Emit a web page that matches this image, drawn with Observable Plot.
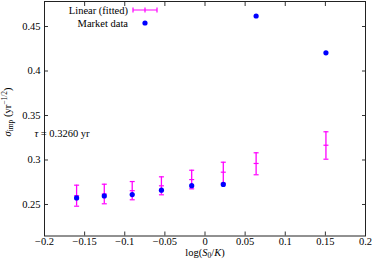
<!DOCTYPE html>
<html>
<head>
<meta charset="utf-8">
<script src="https://cdn.jsdelivr.net/npm/d3@7"></script>
<script src="https://cdn.jsdelivr.net/npm/@observablehq/plot@0.6"></script>
<style>
  html, body { margin: 0; padding: 0; background: #fff; }
  #chart { width: 374px; height: 263px; }
</style>
</head>
<body>
<div id="chart"></div>
<script>
const xTicks = [-0.2, -0.15, -0.1, -0.05, 0, 0.05, 0.1, 0.15, 0.2];
const yTicks = [0.25, 0.3, 0.35, 0.4, 0.45];
const logMoneyness = [-0.160, -0.1255, -0.0907, -0.0543, -0.0166, 0.0228, 0.0637, 0.1507];
const marketVol = [0.2574, 0.2596, 0.2611, 0.2661, 0.2711, 0.2726, 0.4618, 0.4204];
const fitVol = [0.2599, 0.2618, 0.2655, 0.2710, 0.2780, 0.2863, 0.2961, 0.3166];
const fitLo = [0.2481, 0.2508, 0.2553, 0.2609, 0.2676, 0.2739, 0.2834, 0.3009];
const fitHi = [0.2717, 0.2728, 0.2758, 0.2811, 0.2885, 0.2975, 0.3081, 0.3317];
const legendLabels = ["Linear (fitted)", "Market data"];
const tauLabel = "0.3260";

const fitData = logMoneyness.map((x, i) => ({x, y: fitVol[i], lo: fitLo[i], hi: fitHi[i]}));
const marketData = logMoneyness.map((x, i) => ({x, y: marketVol[i]}));

const MAG = "#ff00ff", BLUE = "#0000ff", FONT = "'Liberation Serif', 'DejaVu Serif', serif";
const hline = { draw(ctx, size) { const w = Math.sqrt(size / Math.PI); ctx.moveTo(-w, 0); ctx.lineTo(w, 0); } };
const fmt = d => { const s = String(+d.toFixed(2)); return s.replace("-", "\u2212"); };

const plot = Plot.plot({
  width: 374,
  height: 263,
  marginLeft: 44,
  marginRight: 9,
  marginTop: 1,
  marginBottom: 27.5,
  style: { fontFamily: FONT, fontSize: "10.5px", color: "#000", background: "#fff" },
  x: { domain: [-0.2, 0.2] },
  y: { domain: [0.2146, 0.4781] },
  marks: [
    Plot.axisX(xTicks, { anchor: "bottom", tickSize: -4, tickPadding: 6, tickFormat: fmt, label: null, stroke: "#333" }),
    Plot.axisX(xTicks, { anchor: "top", tickSize: -4, tickFormat: () => "", label: null, stroke: "#333" }),
    Plot.axisY(yTicks, { anchor: "left", tickSize: -4, tickPadding: 8, tickFormat: fmt, label: null, stroke: "#333" }),
    Plot.axisY(yTicks, { anchor: "right", tickSize: -4, tickFormat: () => "", label: null, stroke: "#333" }),
    Plot.frame({ stroke: "#222", strokeWidth: 1 }),
    Plot.ruleX(fitData, { x: "x", y1: "lo", y2: "hi", stroke: MAG, strokeWidth: 1.3 }),
    Plot.dot(fitData, { x: "x", y: "lo", symbol: hline, r: 2.5, stroke: MAG, strokeWidth: 1.2, fill: "none" }),
    Plot.dot(fitData, { x: "x", y: "hi", symbol: hline, r: 2.5, stroke: MAG, strokeWidth: 1.2, fill: "none" }),
    Plot.dot(fitData, { x: "x", y: "y", symbol: hline, r: 2.5, stroke: MAG, strokeWidth: 1.2, fill: "none" }),
    Plot.dot(marketData, { x: "x", y: "y", r: 2.6, fill: BLUE, stroke: "none" })
  ]
});
document.getElementById("chart").appendChild(plot);

const svg = d3.select(plot);
// y axis label
const yl = svg.append("text").attr("transform", "translate(11,112) rotate(-90)")
  .attr("text-anchor", "middle").attr("font-family", FONT).attr("font-size", 10.5).attr("fill", "#000");
yl.append("tspan").attr("font-style", "italic").text("\u03C3");
yl.append("tspan").attr("font-size", 7.5).attr("dy", 2).text("imp");
yl.append("tspan").attr("dy", -2).text(" (yr");
yl.append("tspan").attr("font-size", 7.5).attr("dy", -4).text("\u22121/2");
yl.append("tspan").attr("dy", 4).text(")");

// x axis label
const xl = svg.append("text").attr("x", 205).attr("y", 256)
  .attr("text-anchor", "middle").attr("font-family", FONT).attr("font-size", 10.5).attr("fill", "#000");
xl.append("tspan").text("log(");
xl.append("tspan").attr("font-style", "italic").text("S");
xl.append("tspan").attr("font-size", 7.5).attr("dy", 2).text("0");
xl.append("tspan").attr("dy", -2).text("/");
xl.append("tspan").attr("font-style", "italic").text("K");
xl.append("tspan").text(")");

// tau annotation
const ta = svg.append("text").attr("x", 62).attr("y", 136.5)
  .attr("font-family", FONT).attr("font-size", 10.5).attr("fill", "#000");
ta.append("tspan").attr("font-style", "italic").text("\u03C4");
ta.append("tspan").text(" = " + tauLabel + " yr");

// legend
const lg = svg.append("g").attr("font-family", FONT).attr("font-size", 10.5).attr("fill", "#000");
lg.append("text").attr("x", 128).attr("y", 13.5).attr("text-anchor", "end").text(legendLabels[0]);
lg.append("text").attr("x", 128).attr("y", 26.5).attr("text-anchor", "end").text(legendLabels[1]);
lg.append("path").attr("d", "M133,10H157M133,7.5V12.5M157,7.5V12.5M145,7.5V12.5").attr("stroke", MAG).attr("stroke-width", 1.2).attr("fill", "none");
lg.append("circle").attr("cx", 145).attr("cy", 23).attr("r", 2.6).attr("fill", BLUE);
</script>
</body>
</html>
